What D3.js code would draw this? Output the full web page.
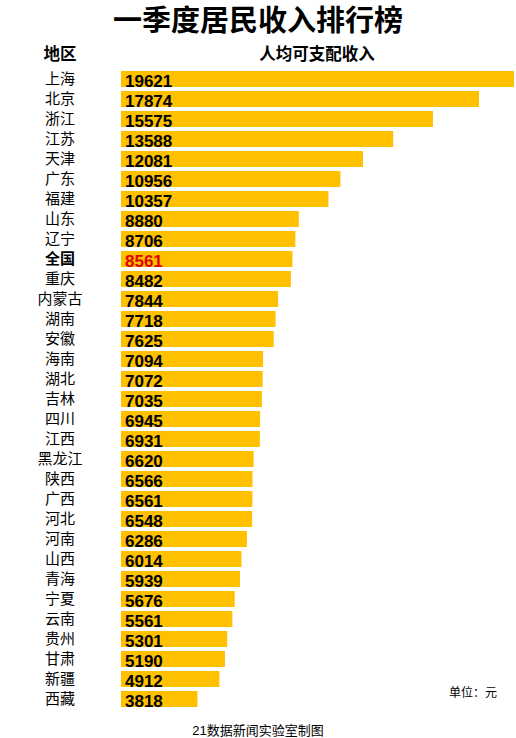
<!DOCTYPE html>
<html>
<head>
<meta charset="utf-8">
<script src="https://cdn.jsdelivr.net/npm/d3@7"></script>
<style>
  body { margin: 0; background: #fff; }
  svg { display: block; font-family: "Liberation Sans", Arial, "Noto Sans CJK SC", sans-serif; }
</style>
</head>
<body>
<svg class="chart" width="516" height="738"></svg>
<script>
var regions = ["上海", "北京", "浙江", "江苏", "天津", "广东", "福建", "山东", "辽宁", "全国",
    "重庆", "内蒙古", "湖南", "安徽", "海南", "湖北", "吉林", "四川", "江西", "黑龙江",
    "陕西", "广西", "河北", "河南", "山西", "青海", "宁夏", "云南", "贵州", "甘肃", "新疆", "西藏"];
var income = [19621, 17874, 15575, 13588, 12081, 10956, 10357, 8880, 8706, 8561,
    8482, 7844, 7718, 7625, 7094, 7072, 7035, 6945, 6931, 6620,
    6566, 6561, 6548, 6286, 6014, 5939, 5676, 5561, 5301, 5190, 4912, 3818];
var highlight = "全国";

var data = regions.map(function (r, i) { return {name: r, value: income[i]}; });

var svg = d3.select(".chart");

var x = d3.scaleLinear().domain([0, d3.max(income)]).range([121, 514]);
var y = d3.scaleBand().domain(regions).range([69, 709]).paddingInner(0.2).paddingOuter(0.1);

// title
svg.append("text")
    .attr("x", 258).attr("y", 31)
    .attr("text-anchor", "middle")
    .attr("font-size", 29).attr("font-weight", "bold")
    .text("一季度居民收入排行榜");

svg.append("text")
    .attr("x", 60).attr("y", 60)
    .attr("text-anchor", "middle")
    .attr("font-size", 16.5).attr("font-weight", "bold")
    .text("地区");

svg.append("text")
    .attr("x", 317).attr("y", 60)
    .attr("text-anchor", "middle")
    .attr("font-size", 16.5).attr("font-weight", "bold")
    .text("人均可支配收入");

var row = svg.selectAll(".row")
    .data(data)
    .enter().append("g")
    .attr("class", "row");

row.append("rect")
    .attr("x", x(0))
    .attr("y", function (d) { return y(d.name); })
    .attr("width", function (d) { return x(d.value) - x(0); })
    .attr("height", y.bandwidth())
    .attr("fill", "#ffc000");

row.append("text")
    .attr("x", x(0) + 4)
    .attr("y", function (d) { return y(d.name) + y.bandwidth() - 0.5; })
    .attr("font-size", 17).attr("font-weight", "bold")
    .attr("fill", function (d) { return d.name === highlight ? "#e00000" : "#000"; })
    .text(function (d) { return d.value; });

row.append("text")
    .attr("x", 60)
    .attr("y", function (d) { return y(d.name) + y.bandwidth() / 2; })
    .attr("dy", "0.36em")
    .attr("text-anchor", "middle")
    .attr("font-size", 15)
    .attr("font-weight", function (d) { return d.name === highlight ? "bold" : "normal"; })
    .text(function (d) { return d.name; });

svg.append("text")
    .attr("x", 473).attr("y", 697)
    .attr("text-anchor", "middle")
    .attr("font-size", 12)
    .text("单位：元");

svg.append("text")
    .attr("x", 258).attr("y", 735)
    .attr("text-anchor", "middle")
    .attr("font-size", 13)
    .text("21数据新闻实验室制图");
</script>
</body>
</html>
